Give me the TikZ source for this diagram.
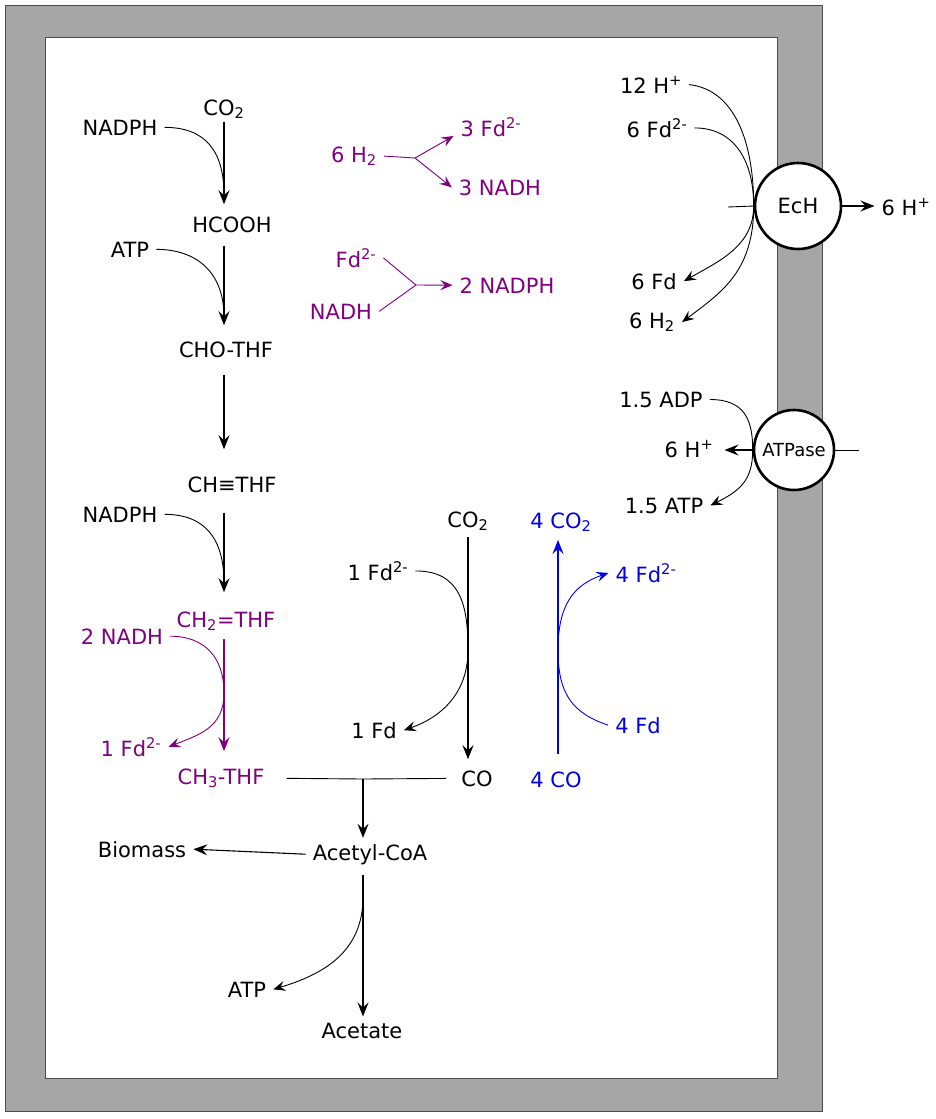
\documentclass[tikz,border=0pt]{standalone}
\usepackage{fontspec}
\setmainfont{DejaVu Sans}
\usepackage{tikz}
\usetikzlibrary{arrows.meta}
\definecolor{wlpurple}{RGB}{128,0,128}
\definecolor{coblue}{RGB}{0,0,230}
\definecolor{membrane}{RGB}{166,166,166}

\begin{document}
\begin{tikzpicture}[x=1pt,y=-1pt,
    lbl/.style={anchor=base,inner xsep=7pt,inner ysep=3pt,font=\fontsize{21}{25}\selectfont},
    rxn/.style={line width=1.1pt,-{Stealth[length=14pt,width=11pt,inset=5pt]}},
    side/.style={line width=0.9pt},
    sidearr/.style={line width=0.9pt,-{Stealth[length=12pt,width=10pt,inset=4.5pt]}},
    enz/.style={circle,draw,line width=2.6pt,fill=white,inner sep=0pt}]
            \useasboundingbox (0,0) rectangle (935,1119);
            \draw[fill=membrane,draw=black!70,line width=1pt] (5,5) rectangle (822,1111);
            \draw[fill=white,draw=black!70,line width=1pt] (45,37) rectangle (777,1078);

            \coordinate (thf) at (224,0);
            \coordinate (j1) at (224,195);
            \coordinate (j2) at (224,317);
            \coordinate (j3) at (224,583);
            \coordinate (j4) at (224,693);
            \coordinate (j5) at (468,650);
            \coordinate (j6) at (558,650);
            \coordinate (j7) at (363,897);
            \coordinate (jc) at (363,779);
            \coordinate (jh) at (415,158);
            \coordinate (jn) at (416,285);
            \coordinate (ecin) at (728,207);
            \coordinate (atout) at (859,450);

            % Wood-Ljungdahl, methyl branch
            \node[lbl] (co2a) at (224,115) {CO\textsubscript{2}};
            \node[lbl] (nadph1) at (120,135) {NADPH};
            \node[lbl] (hcooh) at (232,232) {HCOOH};
            \node[lbl] (atp1) at (130,257) {ATP};
            \node[lbl] (chothf) at (226,357) {CHO-THF};
            \node[lbl] (chthf) at (232,492) {CH≡THF};
            \node[lbl] (nadph2) at (120,522) {NADPH};
            \node[lbl,wlpurple] (chtwo) at (226,627) {CH\textsubscript{2}=THF};
            \node[lbl,wlpurple] (nadh2) at (122,644) {2 NADH};
            \node[lbl,wlpurple] (fdr1) at (131,756) {1 Fd\textsuperscript{2-}};
            \node[lbl,wlpurple] (chthree) at (221,784) {CH\textsubscript{3}-THF};

            \draw[rxn,shorten >=9pt] (thf |- co2a.south) -- (thf |- hcooh.north);
            \draw[rxn,shorten <=10pt,shorten >=13pt] (thf |- hcooh.south) -- (thf |- chothf.north);
            \draw[rxn,shorten <=14pt,shorten >=24pt] (thf |- chothf.south) -- (thf |- chthf.north);
            \draw[rxn,shorten <=17pt,shorten >=16pt] (thf |- chthf.south) -- (thf |- chtwo.north);
            \draw[rxn,wlpurple,shorten <=5pt,shorten >=14pt] (thf |- chtwo.south) -- (thf |- chthree.north);
            \draw[side] (nadph1.east) .. controls +(40,0) and +(0,-45) .. (j1);
            \draw[side] (atp1.east) .. controls +(40,0) and +(0,-45) .. (j2);
            \draw[side] (nadph2.east) .. controls +(40,0) and +(0,-45) .. (j3);
            \draw[sidearr,wlpurple] (nadh2.east) .. controls +(35,0) and +(0,-35) .. (j4)
                .. controls +(0,35) and +(30,-12) .. (fdr1.east);

            % carbonyl branch
            \node[lbl] (co2b) at (468,527) {CO\textsubscript{2}};
            \node[lbl] (fdr1b) at (378,580) {1 Fd\textsuperscript{2-}};
            \node[lbl] (fd1) at (374,738) {1 Fd};
            \node[lbl] (co) at (477,786) {CO};
            \draw[rxn,shorten <=3pt,shorten >=8pt] (co2b.south) -- (co2b.south |- co.north);
            \draw[sidearr] (fdr1b.east) .. controls +(45,0) and +(0,-45) .. (j5)
                .. controls +(0,45) and +(35,-12) .. (fd1.east);

            % CO oxidation
            \node[lbl,coblue] (co24) at (561,528) {4 CO\textsubscript{2}};
            \node[lbl,coblue] (fdr4) at (646,582) {4 Fd\textsuperscript{2-}};
            \node[lbl,coblue] (fd4) at (638,733) {4 Fd};
            \node[lbl,coblue] (co4) at (556,787) {4 CO};
            \draw[rxn,coblue,shorten <=14pt,shorten >=5pt] (j6 |- co4.north) -- (j6 |- co24.south);
            \draw[sidearr,coblue] (fd4.west) .. controls +(-35,-12) and +(0,45) .. (j6)
                .. controls +(0,-45) and +(-35,12) .. (fdr4.west);

            % acetyl-CoA
            \node[lbl] (acoa) at (370,860) {Acetyl-CoA};
            \node[lbl] (biomass) at (142,857) {Biomass};
            \node[lbl] (atp2) at (247,997) {ATP};
            \node[lbl] (acetate) at (362,1038) {Acetate};
            \draw[side,shorten <=15pt] (chthree.east) -- (jc);
            \draw[side,shorten >=8pt] (jc) -- (co.west);
            \draw[rxn,shorten >=3pt] (jc) -- (jc |- acoa.north);
            \draw[rxn] (acoa.west) -- (biomass.east);
            \draw[rxn,shorten <=7pt,shorten >=3pt] (jc |- acoa.south) -- (jc |- acetate.north);
            \draw[sidearr] (j7) .. controls +(0,55) and +(50,-15) .. (atp2.east);

            % hydrogenase shunts
            \node[lbl,wlpurple] (h6) at (354,162) {6 H\textsubscript{2}};
            \node[lbl,wlpurple] (fdr3) at (491,136) {3 Fd\textsuperscript{2-}};
            \node[lbl,wlpurple] (nadh3) at (500,195) {3 NADH};
            \node[lbl,wlpurple] (fdr) at (356,267) {Fd\textsuperscript{2-}};
            \node[lbl,wlpurple] (nadh) at (341,319) {NADH};
            \node[lbl,wlpurple] (nadph3) at (507,293) {2 NADPH};
            \draw[side,wlpurple] (h6.east) -- (jh);
            \draw[sidearr,wlpurple] (jh) -- (fdr3.base west);
            \draw[sidearr,wlpurple] (jh) -- (nadh3.west);
            \draw[side,wlpurple] (fdr.east) -- (jn);
            \draw[side,wlpurple] (nadh.east) -- (jn);
            \draw[sidearr,wlpurple] (jn) -- (nadph3.west);

            % membrane complexes
            \node[lbl] (h12) at (651,93) {12 H\textsuperscript{+}};
            \node[lbl] (fdr6) at (657,137) {6 Fd\textsuperscript{2-}};
            \node[lbl] (fd6) at (654,289) {6 Fd};
            \node[lbl] (h2s) at (652,328) {6 H\textsubscript{2}};
            \node[lbl] (hout) at (906,215) {6 H\textsuperscript{+}};
            \node[lbl] (adp) at (661,407) {1.5 ADP};
            \node[lbl] (hin) at (689,457) {6 H\textsuperscript{+}};
            \node[lbl] (atp15) at (664,513) {1.5 ATP};
            \node[enz,minimum size=86pt,font=\fontsize{21}{25}\selectfont] (ech) at (798,206) {EcH};
            \node[enz,minimum size=80pt,font=\fontsize{18}{22}\selectfont] (atpase) at (794,450) {ATPase};

            \draw[side] (h12.east) .. controls +(45,5) and +(0,-65) .. (ech.west);
            \draw[side] (fdr6.east) .. controls +(40,0) and +(0,-45) .. (ech.west);
            \draw[sidearr] (ech.west) .. controls +(0,40) and +(35,-20) .. (fd6.east);
            \draw[sidearr] (ech.west) .. controls +(0,65) and +(40,-30) .. (h2s.east);
            \draw[side] (ecin) -- (ech.west);
            \draw[rxn] (ech.east) -- (ech.east -| hout.west);
            \draw[sidearr] (adp.east) .. controls +(35,0) and +(0,-30) .. (atpase.west)
                .. controls +(0,30) and +(30,-15) .. (atp15.east);
            \draw[rxn,shorten >=4pt] (atpase.west) -- (atpase.west -| hin.east);
            \draw[side] (atpase.east) -- (atout);
\end{tikzpicture}
\end{document}
